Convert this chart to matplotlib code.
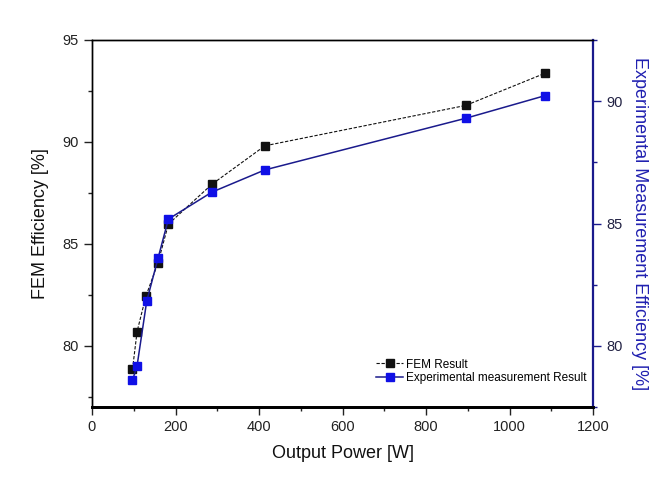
import matplotlib
matplotlib.use("Agg")
import matplotlib.pyplot as plt
from matplotlib.ticker import MultipleLocator

power_fem = [97, 108, 129, 158, 183, 287, 414, 895, 1084]
fem_eff = [78.85, 80.7, 82.43, 84.07, 85.97, 87.92, 89.81, 91.79, 93.36]
power_exp = [97, 108, 131, 158, 183, 287, 414, 895, 1084]
exp_eff = [78.59, 79.19, 81.82, 83.57, 85.18, 86.28, 87.19, 89.3, 90.22]

fem_label = "FEM Result"
exp_label = "Experimental measurement Result"
xlabel = "Output Power [W]"
ylabel_left = "FEM Efficiency [%]"
ylabel_right = "Experimental Measurement Efficiency [%]"

plt.rcParams['font.family'] = ['Liberation Sans', 'DejaVu Sans']

navy = "#1a1a8c"
blue = "#1010e6"
label_blue = "#2020b0"

fig = plt.figure(figsize=(6.6, 4.78), dpi=100)
ax = fig.add_axes([92/660, 1-407/478, 501/660, 367/478])
ax2 = ax.twinx()

l1, = ax.plot(power_fem, fem_eff, color="#111111", lw=0.8, ls=(0, (3, 1.5)),
              marker='s', ms=5.5, mfc="#111111", mec="#111111")
l2, = ax2.plot(power_exp, exp_eff, color=navy, lw=1.1, ls='-',
               marker='s', ms=5.5, mfc=blue, mec=blue)

ax.set_xlim(0, 1200)
ax.set_ylim(77, 95)
ax2.set_ylim(77.5, 92.5)

ax.xaxis.set_major_locator(MultipleLocator(200))
ax.xaxis.set_minor_locator(MultipleLocator(100))
ax.yaxis.set_major_locator(MultipleLocator(5))
ax.yaxis.set_minor_locator(MultipleLocator(2.5))
ax2.yaxis.set_major_locator(MultipleLocator(5))
ax2.yaxis.set_minor_locator(MultipleLocator(2.5))

ax.tick_params(axis='both', which='major', direction='out', length=6, width=1,
               labelsize=10.5, colors='#222222')
ax.tick_params(axis='both', which='minor', direction='out', length=3, width=1,
               colors='#222222')
ax2.tick_params(axis='y', which='major', direction='out', length=6, width=1,
                labelsize=10.5, colors=navy, labelcolor="#222244")
ax2.tick_params(axis='y', which='minor', direction='out', length=3, width=1,
                colors=navy)

for s in ['left', 'top']:
    ax.spines[s].set_linewidth(1.0)
    ax2.spines[s].set_linewidth(1.0)
ax.spines['bottom'].set_linewidth(2.0)
ax2.spines['bottom'].set_linewidth(2.0)
ax2.spines['right'].set_color(navy)
ax2.spines['right'].set_linewidth(1.6)
ax.spines['right'].set_visible(False)

ax.set_xlabel(xlabel, fontsize=13, color='#111111', labelpad=8)
ax.set_ylabel(ylabel_left, fontsize=13, color='#111111', labelpad=10)
ax2.set_ylabel(ylabel_right, fontsize=13, color=label_blue, rotation=270,
               labelpad=18)

ax2.legend([l1, l2], [fem_label, exp_label], loc='center left',
           bbox_to_anchor=(0.567, 0.097), frameon=False, fontsize=8.5,
           borderpad=0, handlelength=2.3, handletextpad=0.2,
           labelspacing=0.15, borderaxespad=0)

fig.savefig("out.png", dpi=100)
